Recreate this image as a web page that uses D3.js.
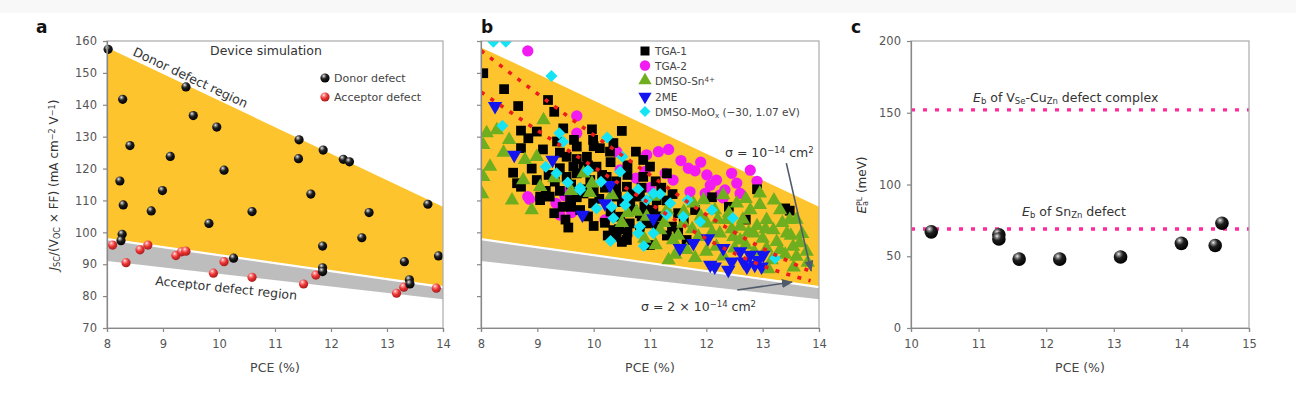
<!DOCTYPE html>
<html>
<head>
<meta charset="utf-8">
<script src="https://cdn.jsdelivr.net/npm/d3@7"></script>
<style>
  body { margin: 0; background: #fff; }
  svg { display: block; font-family: "DejaVu Sans", Verdana, sans-serif; }
</style>
</head>
<body>
<svg width="1296" height="394"></svg>
<script>
// ---- data ----
// panel a: simulated devices
const donor = [
  [8.02,157.4],[8.28,141.7],[9.41,145.6],[9.54,136.6],[9.96,133.0],[8.41,127.2],[9.13,123.8],[10.09,119.5],
  [8.23,116.1],[8.99,113.1],[11.43,129.0],[11.42,123.1],[11.86,125.8],[12.22,122.9],[12.33,122.1],[11.64,112.0],
  [8.29,108.6],[8.79,106.7],[9.82,102.8],[8.27,99.4],[8.25,97.4],[10.59,106.5],[12.68,106.2],[13.73,108.8],
  [12.55,98.3],[11.85,95.7],[13.92,92.6],[13.31,90.8],[11.85,88.9],[11.85,87.7],[13.40,85.1],[13.41,83.8],[10.26,91.9]
];
const acceptor = [
  [8.10,96.0],[8.34,90.5],[8.59,94.5],[8.73,96.0],[9.23,92.7],[9.33,93.9],[9.41,94.1],[9.90,87.2],
  [10.09,90.8],[10.59,85.9],[11.51,83.8],[11.73,86.6],[13.17,80.9],[13.30,82.8],[13.88,82.5]
];
// region boundaries (PCE, value) shared by panels a and b
const donorRegion = [[8,158],[14,108],[14,83],[8,98]];
const acceptorRegion = [[8,97.5],[14,82.5],[14,79],[8,91]];

// panel b: experimental devices
const tga1 = [
  [8.04,149.9],[8.41,144.9],[8.66,139.6],[9.19,141.5],[9.30,137.8],[8.71,131.9],[8.71,126.4],[8.57,118.7],
  [8.64,115.4],[8.84,129.5],[8.99,131.6],[9.46,132.6],[9.97,132.3],[10.50,131.8],[10.75,125.3],[9.70,126.9],
  [9.52,123.7],[9.88,123.7],[10.05,120.6],[9.70,118.5],[9.52,117.4],[9.94,116.4],[10.23,117.4],[10.59,114.3],
  [10.41,111.2],[10.82,111.2],[8.71,114.3],[8.99,116.4],[9.31,115.9],[9.05,111.2],[9.99,129.0],[10.29,125.3],
  [10.11,126.4],[9.64,120.6],[9.82,120.6],[9.40,120.1],[9.05,110.1],[9.22,111.2],[9.58,110.1],[9.76,107.0],
  [9.99,109.1],[9.82,112.2],[10.35,100.7],[10.41,98.6],[10.64,102.8],[10.82,100.7],[10.59,97.6],[10.94,103.9],
  [11.12,101.8],[10.47,104.9],[10.70,107.0],[11.06,107.0],[10.88,122.7],[11.0,120.6],[10.88,117.4],[11.30,118.5],
  [12.90,113.5],[10.82,106.0],[10.94,102.8],[11.12,110.1],[11.65,97.6],[13.40,107.5],[13.48,106.8],[11.39,101.8],
  [9.6,115],[9.8,113.5],[10.0,113],[10.2,114],[10.4,116],[10.6,118],[10.1,110.5],[10.3,106.5],[10.5,109.5],
  [10.7,112],[9.9,105],[10.9,108],[11.2,105],[11.3,110],[11.5,100],[11.0,96],[10.6,100],[9.5,104],[9.3,106],
  [9.7,123],[10.0,127],[10.3,122],[10.6,121],[11.2,114],[11.4,112],[9.2,118],[9.4,113],[9.6,108],[10.2,103],
  [10.45,101],[11.6,104],[11.8,107],[12.1,111],[12.4,108],[12.7,104],
  [9.4,125],[9.9,121],[10.15,118],[10.4,113],[10.65,109],[10.85,105],[11.05,103],[10.25,99],[10.5,97],
  [9.7,111],[9.45,108],[9.15,113],[10.0,102],[11.3,99],[11.5,106],[9.65,129],[10.35,128],[10.85,114],
  [11.1,116],[9.1,126],[9.35,128.5],[8.9,120],[9.55,101.5]
];
const tga2 = [
  [8.83,156.9],[9.70,136.5],[9.70,131.1],[10.41,125.3],[10.94,124.3],[10.91,119.0],[10.47,119.6],[8.83,111.2],
  [9.55,112.7],[11.15,125.3],[11.33,126.0],[11.68,120.1],[11.80,119.3],[12.01,118.0],[12.18,116.4],[12.07,114.8],
  [12.33,113.3],[12.54,115.4],[11.27,118.5],[11.41,116.4],[11.98,112.2],[12.24,111.7],[12.60,112.2],[8.86,110.4],
  [9.33,109.1],[9.40,105.4],[9.61,106.2],[9.49,111.4],[10.20,103.9],[12.30,110.8],[11.71,112.7],[12.78,119.5],
  [12.9,116],[11.55,122.5],[11.9,122],[12.45,118.5],[11.0,114],[10.75,117]
];
const dmsoSn = [
  [8.04,127.4],[8.10,131.1],[8.16,120.6],[8.04,117.4],[8.28,132.1],[9.11,135.2],[8.78,122.7],[8.99,123.7],
  [9.05,114.3],[9.82,118.5],[9.97,115.4],[10.32,111.7],[8.75,116.4],[8.90,107.0],[10.76,106.5],[9.93,112.4],
  [11.06,111.2],[10.94,104.9],[11.33,91.3],[11.59,102.8],[11.77,109.1],[11.95,110.1],[12.15,107.0],[12.01,102.8],
  [12.36,103.9],[12.24,99.7],[12.48,98.6],[12.60,101.8],[12.78,107.0],[12.95,108.6],[13.07,103.9],[13.19,100.7],
  [13.31,107.0],[13.43,99.7],[13.54,95.5],[13.66,96.6],[13.48,103.9],[13.31,94.5],[13.07,95.0],[12.84,99.7],
  [11.86,98.6],[12.18,95.5],[11.41,97.6],[11.18,100.7],[11.65,94.5],[13.16,91.3],[13.60,92.4],[13.78,94.0],
  [12.95,112.2],[12.54,109.1],[12.30,111.7],[8.02,112],[8.4,125],[12.7,96],[12.9,102],[13.0,98],[13.25,97],
  [13.5,99],[12.4,106],[12.65,104],[11.9,105],[12.1,100],[11.5,99],[13.7,99.5],[13.4,93],[12.6,97.5],[11.3,107],[10.6,106],
  [10.9,98],[11.1,96],[11.45,93],[11.8,92],[12.0,94],[12.3,92.5],[12.5,95],[12.85,94],[13.1,88.5],[13.55,89],
  [13.8,90.5],[11.75,101],[12.2,104],[12.45,101],[12.75,100],[13.05,101],[13.35,103],[13.6,104],[13.2,110],
  [12.7,110.5],[11.6,106.5],[11.25,103],[10.5,103],[9.6,113],[9.3,117],[8.5,129],[8.55,110]
];
const me2 = [
  [8.25,139.6],[8.59,124.3],[9.27,122.7],[10.29,114.8],[10.20,109.1],[11.53,95.0],[12.03,98.1],[12.30,95.0],
  [12.07,89.8],[12.15,89.2],[12.39,88.2],[12.45,90.8],[12.60,94.0],[12.66,90.8],[12.78,92.9],[12.86,89.8],
  [12.92,91.3],[12.98,89.2],[12.72,89.2],[11.06,104.4],[11.77,96.6],[13.01,92.9],[9.8,105.5]
];
const dmsoMoOx = [
  [8.22,159.8],[8.44,159.8],[9.25,149.0],[8.38,133.4],[9.39,131.1],[9.46,128.4],[10.24,129.7],[10.51,123.7],
  [9.15,120.6],[9.34,118.5],[9.54,115.6],[9.76,114.0],[10.13,115.9],[10.47,119.0],[10.79,113.5],[11.06,112.2],
  [9.76,113.3],[10.05,107.5],[10.32,108.0],[10.35,104.4],[10.56,108.6],[10.94,110.1],[11.06,99.7],[10.30,97.3],
  [10.89,95.7],[10.79,99.7],[11.18,112.0],[11.36,109.1],[11.89,103.3],[11.59,104.9],[13.22,91.9],[10.82,101.8],
  [11.67,110.1],[12.47,104.5],[11.3,105.5],[12.1,107],[10.6,111],[9.9,119.5]
];
// simulated limits, capture cross-sections
const sigma1 = [[8,157],[9,143.5],[10,130.5],[11,118],[12,105.5],[13,95],[13.85,87.7]];
const sigma2 = [[8,144],[9,132],[10,120.5],[11,109],[12,98],[13,89.5],[13.85,84.8]];

// panel c
const eaPL = [[10.3,67],[11.3,65],[11.3,62],[11.6,48],[12.2,48],[13.1,49.5],[14.0,59],[14.5,57.5],[14.6,73]];
const ebComplex = 152;
const ebSnZn = 69;

const ticksJ = [70,80,90,100,110,120,130,140,150,160];
const ticksPCE = [8,9,10,11,12,13,14];
const ticksPCEc = [10,11,12,13,14,15];
const ticksEa = [0,50,100,150,200];

// ---- setup ----
const svg = d3.select("svg");
const plotTop = 41, plotBottom = 328;
const TXT = "#444", AX = "#888";

svg.append("rect").attr("width", 1296).attr("height", 13).attr("fill", "#f8f8f8");

const defs = svg.append("defs");
function ballGradient(id, stops) {
  const g = defs.append("radialGradient").attr("id", id)
    .attr("cx", "38%").attr("cy", "32%").attr("r", "70%").attr("fx", "36%").attr("fy", "28%");
  stops.forEach(([o, c]) => g.append("stop").attr("offset", o).attr("stop-color", c));
}
ballGradient("ballBlack", [["0%", "#f2f2f2"], ["18%", "#8a8a8a"], ["45%", "#1e1e1e"], ["100%", "#000"]]);
ballGradient("ballRed", [["0%", "#fff4f4"], ["22%", "#f88"], ["55%", "#e63232"], ["100%", "#a81a1a"]]);

// rich text: parts are strings or [text, flags] with flags i / sub / sup
function rich(sel, parts) {
  parts.forEach((p) => {
    const [t, f] = typeof p === "string" ? [p, ""] : p;
    const ts = sel.append("tspan").text(t);
    if (f.includes("i")) ts.attr("font-style", "italic");
    if (f.includes("sub")) ts.attr("baseline-shift", "-22%").attr("font-size", "68%");
    if (f.includes("sup")) ts.attr("baseline-shift", "42%").attr("font-size", "68%");
  });
  return sel;
}

function frame(x) {
  const [x0, x1] = x.range();
  svg.append("rect").attr("x", x0).attr("y", plotTop).attr("width", x1 - x0).attr("height", plotBottom - plotTop)
    .attr("fill", "none").attr("stroke", "#aaa").attr("stroke-width", 1.2);
}

function axes(x, y, xt, yt, showY) {
  const gx = svg.append("g").attr("transform", `translate(0,${plotBottom})`)
    .call(d3.axisBottom(x).tickValues(xt).tickSize(4).tickPadding(8).tickFormat(d3.format("d")));
  const gy = svg.append("g").attr("transform", `translate(${x.range()[0]},0)`)
    .call(d3.axisLeft(y).tickValues(yt).tickSize(4).tickPadding(6).tickFormat(showY ? d3.format("d") : () => ""));
  [gx, gy].forEach((g) => {
    g.selectAll("path,line").attr("stroke", AX).attr("stroke-width", 1.2);
    g.selectAll("text").attr("fill", "#555").attr("font-size", 11.5);
    g.attr("font-family", null);
  });
  svg.append("text").attr("x", d3.mean(x.range())).attr("y", 372).attr("text-anchor", "middle")
    .attr("font-size", 12.5).attr("fill", TXT).text("PCE (%)");
}

function regions(g, x, y) {
  const poly = d3.line().x((d) => x(d[0])).y((d) => y(d[1]));
  g.append("path").attr("d", poly(acceptorRegion) + "Z").attr("fill", "#bdbdbd");
  g.append("path").attr("d", poly(donorRegion) + "Z").attr("fill", "#fdc42e");
  g.append("path").attr("d", poly(donorRegion.slice(2))).attr("stroke", "#fff").attr("stroke-width", 1.2);
}

function panelLabel(t, xp) {
  svg.append("text").attr("x", xp).attr("y", 33).attr("font-size", 17).attr("font-weight", "bold")
    .attr("fill", "#111").text(t);
}

// ---- panel a ----
const xa = d3.scaleLinear([8, 14], [107, 443]);
const ya = d3.scaleLinear([70, 160], [plotBottom, plotTop]);
const ga = svg.append("g");
regions(ga, xa, ya);
ga.selectAll(".acc").data(acceptor).join("circle").attr("class", "acc")
  .attr("cx", (d) => xa(d[0])).attr("cy", (d) => ya(d[1])).attr("r", 4.6).attr("fill", "url(#ballRed)");
ga.selectAll(".don").data(donor).join("circle").attr("class", "don")
  .attr("cx", (d) => xa(d[0])).attr("cy", (d) => ya(d[1])).attr("r", 4.6).attr("fill", "url(#ballBlack)");
frame(xa);
axes(xa, ya, ticksPCE, ticksJ, true);
panelLabel("a", 36);

svg.append("text").attr("x", 210).attr("y", 55).attr("font-size", 12.5).attr("fill", "#333").text("Device simulation");
[["Donor defect", "url(#ballBlack)", 78], ["Acceptor defect", "url(#ballRed)", 97]].forEach(([t, f, yy]) => {
  svg.append("circle").attr("cx", 325).attr("cy", yy).attr("r", 4.6).attr("fill", f);
  svg.append("text").attr("x", 334).attr("y", yy + 4).attr("font-size", 11).attr("fill", TXT).text(t);
});
svg.append("text").attr("transform", "translate(132,55) rotate(25.2)").attr("font-size", 12.5)
  .attr("fill", "#333").text("Donor defect region");
svg.append("text").attr("transform", "translate(155,285) rotate(6)").attr("font-size", 12.5)
  .attr("fill", "#333").text("Acceptor defect region");
rich(svg.append("text").attr("transform", "translate(58,185) rotate(-90)").attr("text-anchor", "middle")
  .attr("font-size", 12).attr("fill", "#333"),
  [["J", "i"], ["SC", "sub"], "/(V", ["OC", "sub"], " × FF) (mA cm", ["−2", "sup"], " V", ["−1", "sup"], ")"]);

// ---- panel b ----
const xb = d3.scaleLinear([8, 14], [481, 819]);
const yb = d3.scaleLinear([70, 160], [plotBottom, plotTop]);
defs.append("clipPath").attr("id", "clipB").append("rect")
  .attr("x", 481).attr("y", plotTop).attr("width", 338).attr("height", plotBottom - plotTop);
const gb = svg.append("g").attr("clip-path", "url(#clipB)");
regions(gb, xb, yb);

const series = [
  { name: "TGA-2", data: tga2, color: "#f21cf2", type: d3.symbolCircle, size: 100, rot: 0 },
  { name: "TGA-1", data: tga1, color: "#000", type: d3.symbolSquare, size: 95, rot: 0 },
  { name: "DMSO-Sn", data: dmsoSn, color: "#6fae1e", type: d3.symbolTriangle, size: 90, rot: 0 },
  { name: "2ME", data: me2, color: "#1414f0", type: d3.symbolTriangle, size: 90, rot: 180 },
  { name: "DMSO-MoOx", data: dmsoMoOx, color: "#14e4f4", type: d3.symbolSquare, size: 72, rot: 45 },
];
series.forEach((s) => {
  gb.append("g").selectAll("path").data(s.data).join("path")
    .attr("d", d3.symbol(s.type, s.size))
    .attr("transform", (d) => `translate(${xb(d[0])},${yb(d[1])}) rotate(${s.rot})`)
    .attr("fill", s.color);
});
const curve = d3.line().x((d) => xb(d[0])).y((d) => yb(d[1])).curve(d3.curveMonotoneX);
[sigma1, sigma2].forEach((c) => {
  gb.append("path").attr("d", curve(c)).attr("fill", "none").attr("stroke", "#ee1c1c")
    .attr("stroke-width", 3.6).attr("stroke-dasharray", "4,7.5");
});
frame(xb);
axes(xb, yb, ticksPCE, ticksJ, false);
panelLabel("b", 481);

// legend b
const legendRows = [
  [series[1], ["TGA-1"]],
  [series[0], ["TGA-2"]],
  [series[2], ["DMSO-Sn", ["4+", "sup"]]],
  [series[3], ["2ME"]],
  [series[4], ["DMSO-MoO", ["x", "sub"], " (−30, 1.07 eV)"]],
];
const legendY = [51, 65.5, 80.5, 96.5, 111.5];
legendRows.forEach(([s, parts], i) => {
  svg.append("path").attr("d", d3.symbol(s.type, s.size * 0.85)())
    .attr("transform", `translate(645,${legendY[i]}) rotate(${s.rot})`).attr("fill", s.color);
  rich(svg.append("text").attr("x", 655).attr("y", legendY[i] + 4).attr("font-size", 10.5).attr("fill", TXT), parts);
});

// arrows b
defs.append("marker").attr("id", "arr").attr("viewBox", "0 0 10 10").attr("refX", 9).attr("refY", 5)
  .attr("markerWidth", 7).attr("markerHeight", 7).attr("orient", "auto")
  .append("path").attr("d", "M0,1 L10,5 L0,9 Z").attr("fill", "#4f5b6a");
const arrows = [
  [[13.42, 121.7], [13.86, 87.9]],
  [[12.55, 81.9], [13.52, 84.4]],
];
arrows.forEach(([a, b]) => {
  svg.append("line").attr("x1", xb(a[0])).attr("y1", yb(a[1])).attr("x2", xb(b[0])).attr("y2", yb(b[1]))
    .attr("stroke", "#4f5b6a").attr("stroke-width", 1.6).attr("marker-end", "url(#arr)");
});
rich(svg.append("text").attr("x", 725).attr("y", 157).attr("font-size", 12.5).attr("fill", "#333"),
  ["σ = 10", ["−14", "sup"], " cm", ["2", "sup"]]);
rich(svg.append("text").attr("x", 641).attr("y", 311).attr("font-size", 12.5).attr("fill", "#333"),
  ["σ = 2 × 10", ["−14", "sup"], " cm", ["2", "sup"]]);

// ---- panel c ----
const xc = d3.scaleLinear([10, 15], [911, 1249]);
const yc = d3.scaleLinear([0, 200], [plotBottom, plotTop]);
[ebComplex, ebSnZn].forEach((v) => {
  svg.append("line").attr("x1", 911).attr("x2", 1249).attr("y1", yc(v)).attr("y2", yc(v))
    .attr("stroke", "#ff2a9c").attr("stroke-width", 3.4).attr("stroke-dasharray", "4,8");
});
svg.append("g").selectAll("circle").data(eaPL).join("circle")
  .attr("cx", (d) => xc(d[0])).attr("cy", (d) => yc(d[1])).attr("r", 6.8).attr("fill", "url(#ballBlack)");
frame(xc);
axes(xc, yc, ticksPCEc, ticksEa, true);
panelLabel("c", 851);
rich(svg.append("text").attr("x", 973).attr("y", 102).attr("font-size", 12.5).attr("fill", "#333"),
  [["E", "i"], ["b", "sub"], " of V", ["Se", "sub"], "-Cu", ["Zn", "sub"], " defect complex"]);
rich(svg.append("text").attr("x", 1022).attr("y", 216).attr("font-size", 12.5).attr("fill", "#333"),
  [["E", "i"], ["b", "sub"], " of Sn", ["Zn", "sub"], " defect"]);
const lbl = svg.append("text").attr("transform", "translate(866,185) rotate(-90)").attr("text-anchor", "middle")
  .attr("font-size", 12).attr("fill", "#333");
rich(lbl, [["E", "i"], ["a", "sub"]]);
lbl.append("tspan").attr("dx", -5).attr("baseline-shift", "45%").attr("font-size", "65%").text("PL");
lbl.append("tspan").text(" (meV)");
</script>
</body>
</html>
